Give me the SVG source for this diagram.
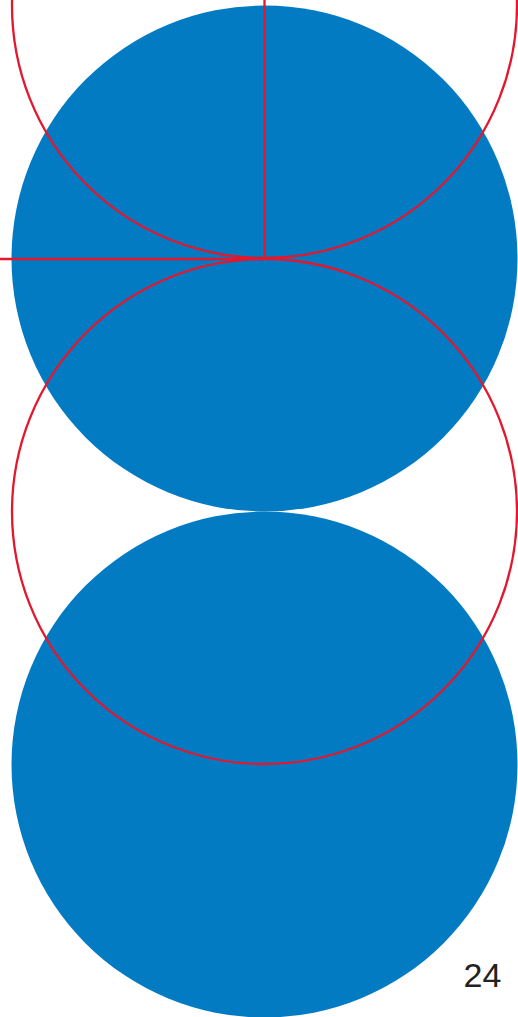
<svg xmlns="http://www.w3.org/2000/svg" width="518" height="1017" viewBox="0 0 518 1017">
<style>
.blue{fill:#027bc3;}
.red{fill:none;stroke:#e3172d;stroke-width:2.3;}
.lbl{font-family:"Liberation Sans",Arial,sans-serif;font-size:34px;fill:#222;}
</style>
<rect width="518" height="1017" fill="#fff"/>
<g id="disc1"><circle class="blue" cx="264.5" cy="258.5" r="253"/></g>
<g id="disc2"><circle class="blue" cx="264.5" cy="764.5" r="253"/></g>
<g id="ring1"><circle class="red" cx="264.5" cy="5.5" r="252.5"/></g>
<g id="ring2"><circle class="red" cx="264.5" cy="511.5" r="252.5"/></g>
<g id="connectors">
<line class="red" x1="264.5" y1="0" x2="264.5" y2="259"/>
<line class="red" x1="0" y1="259" x2="264.5" y2="259"/>
</g>
<g id="page"><text class="lbl" x="463.5" y="987">24</text></g>
</svg>
